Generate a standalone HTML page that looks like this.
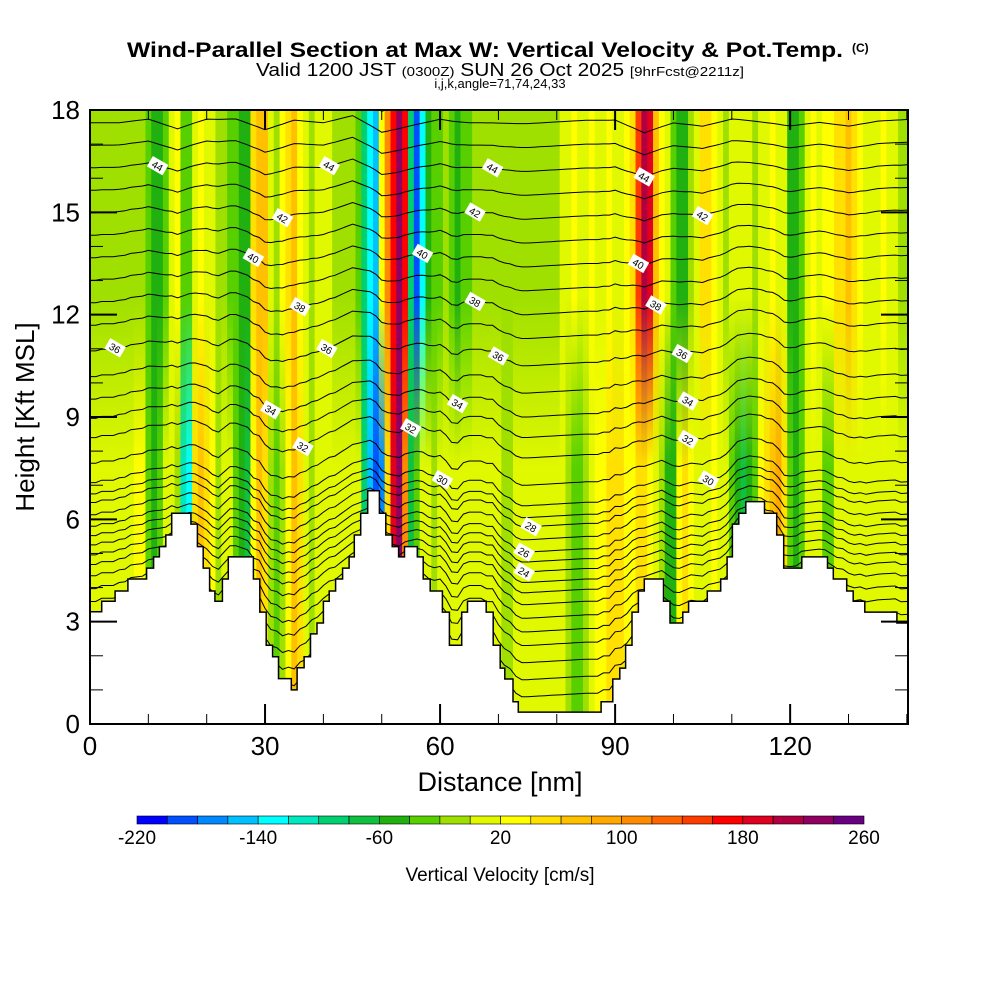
<!DOCTYPE html>
<html><head><meta charset="utf-8"><style>
body{margin:0;background:#fff;}
svg{display:block;font-family:"Liberation Sans",sans-serif;}
</style></head><body>
<svg id="chart" width="1000" height="1000" viewBox="0 0 1000 1000">
<rect width="1000" height="1000" fill="#fff"/>
<g>
<text x="127" y="57" textLength="716" lengthAdjust="spacingAndGlyphs" font-size="21" font-weight="bold">Wind-Parallel Section at Max W: Vertical Velocity &amp; Pot.Temp.</text>
<text x="852" y="52" font-size="12" font-weight="bold">(C)</text>
<text x="256" y="76" textLength="488" lengthAdjust="spacingAndGlyphs" font-size="18">Valid 1200 JST <tspan font-size="13">(0300Z)</tspan> SUN 26 Oct 2025 <tspan font-size="13">[9hrFcst@2211z]</tspan></text>
<text x="500" y="88" text-anchor="middle" font-size="13">i,j,k,angle=71,74,24,33</text>
</g>
<defs id="defs"><clipPath id="plotclip"><rect x="90" y="110" width="818" height="614"/></clipPath></defs>
<g id="field" clip-path="url(#plotclip)"></g>
<g id="contours" clip-path="url(#plotclip)"></g>
<g id="terrain" clip-path="url(#plotclip)"></g>
<g id="labels"></g>
<rect x="90" y="110" width="818" height="614" fill="none" stroke="#000" stroke-width="2"/>
<g id="axes"></g>
<text x="500" y="791" text-anchor="middle" font-size="27">Distance [nm]</text>
<text transform="translate(34,417) rotate(-90)" text-anchor="middle" font-size="26">Height [Kft MSL]</text>
<g id="colorbar"></g>
<text x="500" y="881" text-anchor="middle" font-size="19">Vertical Velocity [cm/s]</text>
</svg>
<script>
// ---- data ----
const wUp = [-10,-10,-10,-10,-10,-10,-10,-10,-10,-10,
 -30,-50,-50,-30,10,30,-30,-30,10,30,
 10,10,-10,-10,-30,-30,-50,-50,50,70,
 70,10,-10,30,50,70,30,10,-10,10,
 10,10,-10,-10,-10,-10,-30,-90,-130,-150,
 30,110,170,230,170,-90,-190,-130,-50,-30,
 -30,-10,-30,-50,-30,-30,-10,-10,-10,-10,
 -10,-10,-10,-10,-10,-10,-10,-10,-10,-10,
 -10,10,10,30,10,10,30,10,10,30,
 10,10,30,50,150,210,190,70,30,10,
 -30,-50,-50,-10,10,50,50,30,10,-10,
 10,10,10,10,-10,10,10,30,10,10,
 -50,-50,-30,10,30,10,30,30,50,50,
 70,50,30,10,10,10,30,10,10,-10,-10];
const wLow = [10,10,10,10,10,10,10,10,30,30,
 -30,-50,-30,10,10,-10,-110,-130,50,70,
 50,30,-10,10,10,-30,-50,-70,30,70,
 50,-10,-30,-10,30,70,50,10,-10,10,
 10,10,10,10,10,10,10,-90,-150,-190,
 -170,50,190,230,110,-70,-30,10,10,-10,
 10,10,10,10,10,10,10,10,10,10,
 10,-10,-10,10,10,10,10,10,10,10,
 10,10,-10,-30,-30,-10,10,30,30,50,
 50,50,30,30,50,50,30,10,-10,-50,
 -50,30,50,30,10,10,10,30,10,10,
 -30,-50,-70,-50,-30,30,50,70,90,50,
 -30,-50,-30,10,10,10,-30,-30,10,10,
 10,10,10,10,10,10,10,10,10,10,10];
const terrainStarts = [0,2,4.3,6.5,9.7,10.9,11.9,13,14,17.3,18.4,19.4,20.5,21.4,22.7,23.7,28,29.1,30.2,31.3,32.3,34.5,35.5,36.7,37.8,38.9,40,41,42.1,43.3,44.4,45.3,46.4,47.6,49.6,50.7,51.8,52.9,53.9,56.1,57.1,58.3,60.4,61.6,63.7,64.7,67.9,69.1,70.3,71.1,72.5,73.4,87.6,89.6,90.8,91.8,92.9,94,95,98.3,99.4,101.6,102.6,105.8,108.1,109.2,110.1,111.2,112.4,115.6,117.7,118.9,122,126.4,127.4,129.7,130.8,132.8,138.3];
const terrainKft = [3.29,3.6,3.9,4.25,4.57,4.9,5.2,5.54,6.18,5.86,5.2,4.57,3.9,3.6,4.25,4.9,4.25,3.28,2.31,1.97,1.33,1.0,1.65,1.97,2.64,2.96,3.6,3.9,4.25,4.57,4.9,5.54,6.18,6.84,6.18,5.54,5.2,4.9,5.2,4.9,4.25,3.9,3.28,2.31,3.28,3.6,3.28,2.31,1.64,1.32,0.65,0.35,0.65,1.32,1.64,2.31,3.28,3.9,4.25,3.6,2.96,3.28,3.6,3.9,4.25,4.9,5.86,6.18,6.52,6.18,5.54,4.57,4.9,4.57,4.25,3.9,3.6,3.28,2.96];
const thetaLevels = [15,16,17,18,19,20,21,22,23,24,25,26,27,28,29,30,31,32,33,34,35,36,37,38,39,40,41,42,43,44,45,46,47];
const thetaBaseKft = [0.8,1.3,1.8,2.3,2.7,3.1,3.5,3.85,4.15,4.46,4.75,5.04,5.4,5.78,6.05,6.4,7.0,7.8,8.4,9.0,9.7,10.5,11.3,12.0,12.7,13.4,14.1,14.8,15.5,16.2,16.9,17.6,18.3];
const dispNm = [0,5,10,15,20,25,30,35,40,45,50,55,60,65,70,75,80,85,90,95,100,105,110,115,120,125,130,135,140];
const dispKft = [0,0,0.1,-0.2,0.1,0.1,-0.2,0.1,0,0.2,-0.3,-0.1,0.1,0,0,0,0.05,0.1,0.1,-0.3,0,-0.1,0.1,0,-0.1,0,-0.1,0.05,0.1];
const labelTheta = [44,44,44,44,42,42,42,40,40,40,38,38,38,36,36,36,36,34,34,34,32,32,32,30,30,28,26,24];
const labelNm = [11.6,41,69,95,33,66,105,28,57,94,36,66,97,4.3,40.6,70,101.5,31,63,102.5,36.5,55,102.5,60.4,106,75.6,74.4,74.4];
const xTicks = [0,30,60,90,120];
const yTicks = [0,3,6,9,12,15,18];
const cbTicks = [-220,-140,-60,20,100,180,260];
const palette = ["#0000ff","#0050ff","#0088ff","#00c0ff","#00ffff","#00e8c0","#00d070","#10c040","#20b010","#58d000","#a0e000","#e0f800","#ffff00","#ffe000","#ffc000","#ffa800","#ff8c00","#ff6400","#ff3c00","#ff0000","#e00020","#b00040","#900060","#680080"];
// ---- scales ----
const XMAX = 140.2, KMAX = 18;
const X = nm => 90 + nm * (818 / XMAX);
const Y = k => 724 - k * (614 / KMAX);
const NS = "http://www.w3.org/2000/svg";
const mk = (tag, attrs, parent) => { const e = document.createElementNS(NS, tag); for (const k in attrs) e.setAttribute(k, attrs[k]); if (parent) parent.appendChild(e); return e; };
const col = w => palette[Math.max(0, Math.min(23, Math.floor((w + 220) / 20)))];
function terrainAt(nm){ let h = terrainKft[0]; for (let i=0;i<terrainStarts.length;i++){ if (nm >= terrainStarts[i]) h = terrainKft[i]; } return h; }
function dispAt(nm){ for (let i=0;i<dispNm.length-1;i++){ if (nm<=dispNm[i+1]){ const t=(nm-dispNm[i])/(dispNm[i+1]-dispNm[i]); return dispKft[i]+(dispKft[i+1]-dispKft[i])*t; } } return dispKft[dispKft.length-1]; }
function lineH(base, nm){ const T = terrainAt(nm); return base + 0.35*(T-0.35)*(18-base)/17.65 + dispAt(nm); }
// ---- field ----
const defs = document.getElementById('defs');
const field = document.getElementById('field');
for (let i=0;i<wUp.length;i++){
  const g = mk('linearGradient',{id:'g'+i,gradientUnits:'userSpaceOnUse',x1:0,x2:0,y1:Y(12.5),y2:Y(7.5)},defs);
  mk('stop',{offset:0,'stop-color':col(wUp[i])},g);
  mk('stop',{offset:1,'stop-color':col(wLow[i])},g);
  const x0 = X(Math.max(0,i-0.5)), x1 = X(Math.min(XMAX,i+0.5));
  const r = mk('rect',{x:x0,y:110,width:x1-x0+0.6,height:614,fill:'url(#g'+i+')'},field);
  
  
}
// ---- contours ----
const cont = document.getElementById('contours');
thetaLevels.forEach((th, li) => {
  let pts = [];
  for (let nm=0; nm<=140; nm++) pts.push(X(nm).toFixed(1)+','+Y(lineH(thetaBaseKft[li], nm)).toFixed(1));
  pts.push(X(XMAX).toFixed(1)+','+Y(lineH(thetaBaseKft[li], 140)).toFixed(1));
  const p = mk('polyline',{points:pts.join(' '),fill:'none',stroke:'#000','stroke-width':1},cont);
  
  
});
// ---- terrain ----
const ter = document.getElementById('terrain');
let tp = [X(0)+','+Y(0)];
for (let i=0;i<terrainStarts.length;i++){
  const a = terrainStarts[i], b = (i+1<terrainStarts.length)?terrainStarts[i+1]:XMAX;
  tp.push(X(a).toFixed(1)+','+Y(terrainKft[i]).toFixed(1));
  tp.push(X(b).toFixed(1)+','+Y(terrainKft[i]).toFixed(1));
}
tp.push(X(XMAX)+','+Y(0));
const tpoly = mk('polygon',{points:tp.join(' '),fill:'#fff',stroke:'#000','stroke-width':1.5},ter);


// ---- labels ----
const lab = document.getElementById('labels');
labelTheta.forEach((th, i) => {
  const li = thetaLevels.indexOf(th);
  const nm = labelNm[i], cx = X(nm), cy = Y(lineH(thetaBaseKft[li], nm));
  const g = mk('g',{transform:'rotate(30 '+cx.toFixed(1)+' '+cy.toFixed(1)+')'},lab);
  
  
  mk('rect',{x:cx-9,y:cy-6,width:18,height:12,fill:'#fff'},g);
  const t = mk('text',{x:cx,y:cy+4,'text-anchor':'middle','font-size':10},g);
  t.textContent = th;
});
// ---- axes ----
const ax = document.getElementById('axes');
for (let nm=0; nm<=140; nm+=10){
  const major = nm%30===0, L = major?20:10, x = X(nm);
  mk('line',{x1:x,x2:x,y1:724,y2:724-L,stroke:'#000','stroke-width':major?2:1},ax);
  mk('line',{x1:x,x2:x,y1:110,y2:110+L,stroke:'#000','stroke-width':major?2:1},ax);
}
for (let k=0;k<=18;k++){
  const major = k%3===0, L = major?27:13, y = Y(k);
  mk('line',{x1:90,x2:90+L,y1:y,y2:y,stroke:'#000','stroke-width':major?2:1},ax);
  mk('line',{x1:908,x2:908-L,y1:y,y2:y,stroke:'#000','stroke-width':major?2:1},ax);
}
xTicks.forEach(v => {
  const t = mk('text',{x:X(v),y:755,'text-anchor':'middle','font-size':26},ax);
  
  
  t.textContent = v;
});
yTicks.forEach(v => {
  const t = mk('text',{x:80,y:Y(v)+9,'text-anchor':'end','font-size':26},ax);
  
  
  t.textContent = v;
});
// ---- colorbar ----
const cb = document.getElementById('colorbar');
const cbx0 = 137, cbx1 = 864, cbw = (cbx1-cbx0)/24;
palette.forEach((c, i) => {
  const r = mk('rect',{x:cbx0+i*cbw,y:816,width:cbw,height:8,fill:c,stroke:'#000','stroke-width':0.6},cb);
  
  
});
cbTicks.forEach(v => {
  const t = mk('text',{x:cbx0+(v+220)/20*cbw,y:844,'text-anchor':'middle','font-size':19},cb);
  
  
  t.textContent = v;
});
</script>
</body></html>
